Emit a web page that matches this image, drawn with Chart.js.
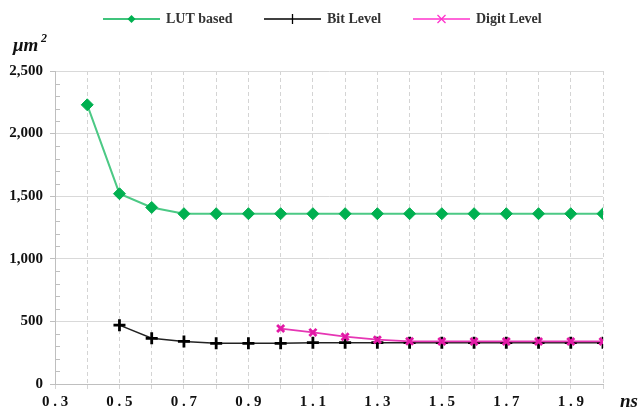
<!DOCTYPE html>
<html>
<head>
<meta charset="utf-8">
<script src="https://cdn.jsdelivr.net/npm/chart.js@4/dist/chart.umd.min.js"></script>
<style>
  html, body { margin: 0; padding: 0; background: #fff; }
  #wrap { width: 642px; height: 414px; position: relative; }
</style>
</head>
<body>
<div id="wrap"><canvas id="areaChart"></canvas></div>
<script>
// delay (ns) and area (um^2)
const delays = [0.4, 0.5, 0.6, 0.7, 0.8, 0.9, 1.0, 1.1, 1.2, 1.3, 1.4, 1.5, 1.6, 1.7, 1.8, 1.9, 2.0];
const lutBased = [2230, 1520, 1410, 1360, 1360, 1360, 1360, 1360, 1360, 1360, 1360, 1360, 1360, 1360, 1360, 1360, 1360];
const bitLevel = [null, 470, 365, 340, 325, 325, 325, 330, 330, 330, 330, 330, 330, 330, 330, 330, 330];
const digitLevel = [null, null, null, null, null, null, 443, 412, 378, 354, 341, 340, 340, 340, 340, 340, 340];
const seriesNames = ["LUT based", "Bit Level", "Digit Level"];

const SERIF = '"Liberation Serif", "Times New Roman", serif';

function toPoints(values) {
  return delays.map((d, i) => ({ x: d, y: values[i] }));
}

// legend drawn by hand: a line sample with the marker on it
const legendPlugin = {
  id: "lineLegend",
  afterDraw(chart) {
    const ctx = chart.ctx;
    const starts = [103, 264, 413];
    const colors = ["#00b050", "#000000", "#ff33cc"];
    ctx.save();
    chart.data.datasets.forEach((ds, i) => {
      const x0 = starts[i], y = 19, len = 57;
      const mx = x0 + len / 2;
      ctx.strokeStyle = colors[i];
      ctx.lineWidth = 1.3;
      ctx.beginPath();
      ctx.moveTo(x0, y);
      ctx.lineTo(x0 + len, y);
      ctx.stroke();
      if (i === 0) {
        ctx.fillStyle = colors[i];
        ctx.beginPath();
        ctx.moveTo(mx, y - 4);
        ctx.lineTo(mx + 4, y);
        ctx.lineTo(mx, y + 4);
        ctx.lineTo(mx - 4, y);
        ctx.closePath();
        ctx.fill();
      } else if (i === 1) {
        ctx.beginPath();
        ctx.moveTo(mx, y - 5);
        ctx.lineTo(mx, y + 5);
        ctx.stroke();
      } else {
        ctx.beginPath();
        ctx.moveTo(mx - 4, y - 4);
        ctx.lineTo(mx + 4, y + 4);
        ctx.moveTo(mx + 4, y - 4);
        ctx.lineTo(mx - 4, y + 4);
        ctx.stroke();
      }
      ctx.fillStyle = "#333";
      ctx.font = "bold 14px " + SERIF;
      ctx.textBaseline = "middle";
      ctx.textAlign = "left";
      ctx.fillText(ds.label, x0 + len + 6, y);
    });
    ctx.restore();
  }
};

// unit labels and small inner tick marks on the y axis
const unitsPlugin = {
  id: "units",
  afterDraw(chart) {
    const ctx = chart.ctx;
    const ys = chart.scales.y;
    const area = chart.chartArea;
    ctx.save();
    ctx.strokeStyle = "#bfbfbf";
    ctx.lineWidth = 1;
    for (let v = 100; v < 2500; v += 100) {
      if (v % 500 === 0) continue;
      const py = Math.round(ys.getPixelForValue(v)) + 0.5;
      ctx.beginPath();
      ctx.moveTo(area.left, py);
      ctx.lineTo(area.left + 5, py);
      ctx.stroke();
    }
    ctx.fillStyle = "#111";
    ctx.textBaseline = "alphabetic";
    ctx.font = "italic bold 19px " + SERIF;
    ctx.fillText("\u03bcm", 13, 51);
    ctx.font = "italic bold 12px " + SERIF;
    ctx.fillText("2", 41, 42);
    ctx.font = "italic bold 19px " + SERIF;
    ctx.fillText("ns", 620, 407);
    ctx.restore();
  }
};

const chart = new Chart(document.getElementById("areaChart"), {
  type: "line",
  data: {
    datasets: [
      {
        label: seriesNames[0],
        data: toPoints(lutBased),
        borderColor: "#4cc985",
        borderWidth: 2,
        pointStyle: "rectRot",
        pointRadius: 6,
        pointBackgroundColor: "#00b050",
        pointBorderColor: "#00b050",
        pointBorderWidth: 1,
        tension: 0,
        order: 2
      },
      {
        label: seriesNames[1],
        data: toPoints(bitLevel),
        borderColor: "#222",
        borderWidth: 1.5,
        pointStyle: "cross",
        pointRadius: 6,
        pointBorderColor: "#000",
        pointBorderWidth: 2.8,
        tension: 0,
        order: 1
      },
      {
        label: seriesNames[2],
        data: toPoints(digitLevel),
        borderColor: "#e636b4",
        borderWidth: 1.8,
        pointStyle: "crossRot",
        pointRadius: 5,
        pointBorderColor: "#e21aa6",
        pointBorderWidth: 2.8,
        tension: 0,
        order: 0
      }
    ]
  },
  options: {
    responsive: true,
    maintainAspectRatio: false,
    animation: false,
    layout: { padding: { top: 71, right: 39, left: 0, bottom: 0 } },
    plugins: {
      legend: { display: false },
      tooltip: { enabled: false }
    },
    scales: {
      x: {
        type: "linear",
        min: 0.3,
        max: 2.0,
        afterFit: (scale) => { scale.height = 30; },
        ticks: {
          stepSize: 0.1,
          autoSkip: false,
          maxRotation: 0,
          padding: 4,
          color: "#111",
          font: { family: SERIF, size: 15, weight: "bold" },
          callback: (value, index) => {
            if (index % 2 !== 0 || value > 1.95) return "";
            return value.toFixed(1).split("").join(" ");
          }
        },
        grid: {
          color: "#d4d4d4",
          lineWidth: 1,
          tickLength: 5,
          tickColor: "#d4d4d4",
          tickBorderDash: [4, 3]
        },
        border: { color: "#bfbfbf", width: 1, dash: [4, 3] }
      },
      y: {
        min: 0,
        max: 2500,
        afterFit: (scale) => { scale.width = 55; },
        ticks: {
          stepSize: 100,
          autoSkip: false,
          padding: 7,
          color: "#111",
          font: { family: SERIF, size: 15, weight: "bold" },
          callback: (value) => (value % 500 === 0 ? value.toLocaleString("en-US") : "")
        },
        grid: {
          color: (c) => (c.tick && c.tick.value % 500 === 0 ? "#d9d9d9" : "rgba(0,0,0,0)"),
          tickColor: (c) => (c.tick && c.tick.value % 500 === 0 ? "#bfbfbf" : "rgba(0,0,0,0)"),
          lineWidth: 1,
          tickLength: 5
        },
        border: { color: "#bfbfbf", width: 1 }
      }
    }
  },
  plugins: [legendPlugin, unitsPlugin]
});
</script>
</body>
</html>
